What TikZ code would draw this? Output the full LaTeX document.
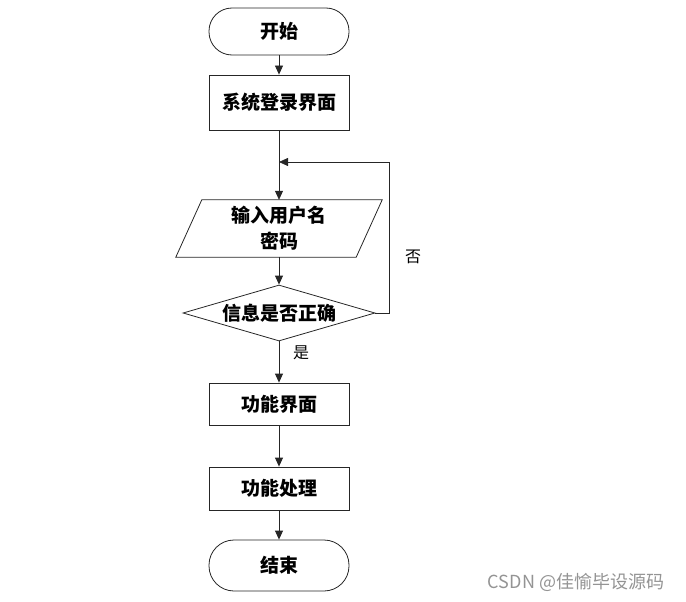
\documentclass[tikz,border=0pt]{standalone}
\usepackage{fontspec}
\newfontfamily\cjk{Noto Sans CJK SC}
\usetikzlibrary{arrows.meta,shapes.geometric,calc}
\begin{document}
\begin{tikzpicture}[x=1pt,y=-1pt,
  every node/.style={font=\cjk\bfseries\fontsize{19}{26}\selectfont},
  line/.style={draw=black!85,line width=0.8pt},
  arr/.style={line,-{Triangle[length=9pt,width=8pt]}},
  proc/.style={line,rectangle,minimum width=140pt,inner sep=0pt},
  term/.style={proc,rounded corners=23pt},
  lbl/.style={font=\cjk\fontsize{16}{18}\selectfont}]
\useasboundingbox (0,0) rectangle (686,602);
\node[term,minimum height=47pt] (start) at (279,31.5) {开始};
\node[proc,minimum height=55pt] (login) at (279,102.5) {系统登录界面};
\node[minimum width=180pt,minimum height=57pt,inner sep=0pt,align=center] (in) at (279,228.5) {输入用户名\\密码};
\draw[line] ($(in.north west)+(13,0)$) -- ($(in.north east)+(13,0)$) -- ($(in.south east)+(-13,0)$) -- ($(in.south west)+(-13,0)$) -- cycle;
\node[line,diamond,inner sep=0pt,aspect=3.4,minimum width=192pt,minimum height=56pt] (dec) at (279,313) {信息是否正确};
\node[proc,minimum height=42pt] (func) at (279,404) {功能界面};
\node[proc,minimum height=43pt] (proc) at (279,488.5) {功能处理};
\node[term,minimum height=51pt,rounded corners=25pt] (end) at (279,565.5) {结束};
\coordinate (fb) at (279,162);
\coordinate (fbr) at (389,162);
\draw[arr] (start) -- (login);
\draw[arr] (login) -- (in.north);
\draw[arr] (in.south) -- (dec.north);
\draw[arr] (dec.south) -- (func.north);
\draw[arr] (func) -- (proc);
\draw[arr] (proc) -- (end);
\draw[arr] (dec.east) -| (fbr) -- (fb);
\node[lbl] (yes) at (301,353) {是};
\node[lbl] (no) at (413,257) {否};
\node[font=\cjk\fontsize{18}{20}\selectfont,text=black!42] (wm) at (576,582) {CSDN @佳愉毕设源码};
\end{tikzpicture}
\end{document}
